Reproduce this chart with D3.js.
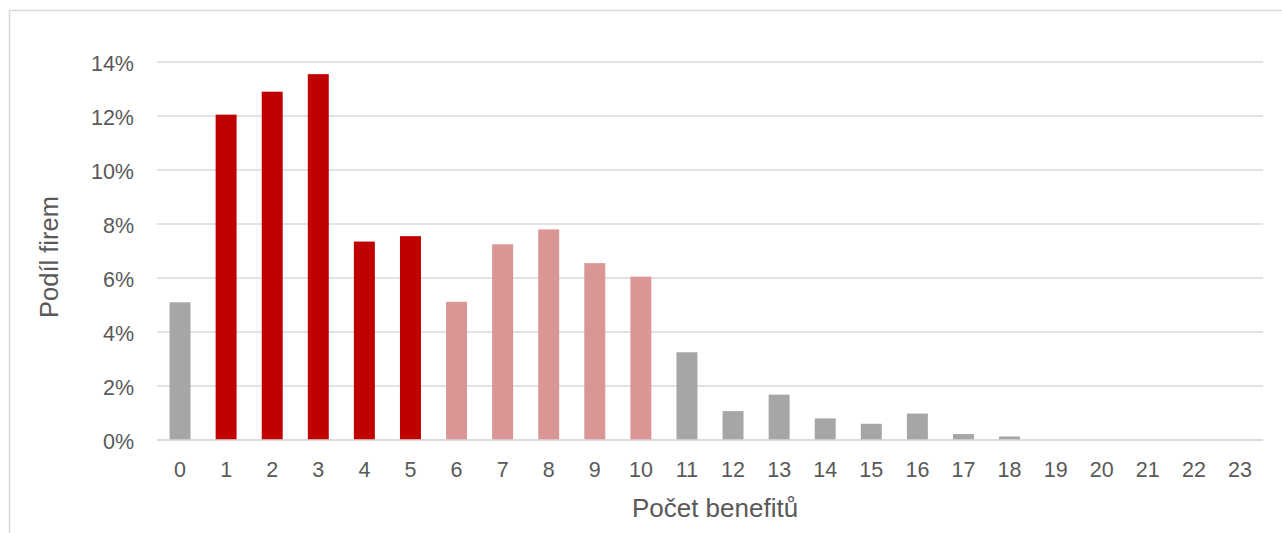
<!DOCTYPE html>
<html>
<head>
<meta charset="utf-8">
<script src="https://cdn.jsdelivr.net/npm/d3@7"></script>
<style>
  html, body { margin: 0; padding: 0; background: #ffffff; }
  svg { display: block; font-family: "Liberation Sans", Arial, sans-serif; }
</style>
</head>
<body>
<svg id="chart" width="1282" height="533"></svg>
<script>
// Share of firms by number of benefits offered
const categories = ["0","1","2","3","4","5","6","7","8","9","10","11","12","13","14","15","16","17","18","19","20","21","22","23"];
const shares = [5.1, 12.05, 12.9, 13.55, 7.35, 7.55, 5.12, 7.25, 7.8, 6.55, 6.05, 3.25, 1.07, 1.68, 0.8, 0.6, 0.98, 0.22, 0.13, 0, 0, 0, 0, 0];
const groups = ["other","core","core","core","core","core","mid","mid","mid","mid","mid","other","other","other","other","other","other","other","other","other","other","other","other","other"];
const yTicks = [0, 2, 4, 6, 8, 10, 12, 14];
const xTitle = "Počet benefitů";
const yTitle = "Podíl firem";

const groupColor = { core: "#C00000", mid: "#D99694", other: "#A6A6A6" };

const svg = d3.select("#chart");
const W = 1282, H = 533;
const plot = { left: 157, right: 1263, top: 62, bottom: 440 };

// outer frame of the chart area (runs off the right and bottom edges)
svg.append("rect")
  .attr("x", 9.5).attr("y", 10.5)
  .attr("width", W + 20).attr("height", H + 20)
  .attr("fill", "none").attr("stroke", "#D9D9D9").attr("stroke-width", 1.5);

const x = d3.scaleBand().domain(categories).range([plot.left, plot.right]).paddingInner(0.545).paddingOuter(0.2725);
const y = d3.scaleLinear().domain([0, 14]).range([plot.bottom, plot.top]);

// horizontal gridlines
svg.append("g")
  .selectAll("line")
  .data(yTicks)
  .join("line")
  .attr("x1", plot.left).attr("x2", plot.right)
  .attr("y1", d => y(d)).attr("y2", d => y(d))
  .attr("stroke", "#D9D9D9").attr("stroke-width", 1.6);

// y axis labels
const yAxis = d3.axisLeft(y).tickValues(yTicks).tickFormat(d => d + "%").tickSize(0).tickPadding(23);
const gy = svg.append("g").attr("transform", `translate(${plot.left},0)`).call(yAxis);
gy.select(".domain").remove();
gy.selectAll("text").attr("fill", "#595959").attr("dy", "0.38em").style("font-size", "21.5px");

// bars
svg.append("g")
  .selectAll("rect")
  .data(categories.map((c, i) => ({ c, v: shares[i], g: groups[i] })))
  .join("rect")
  .attr("x", d => x(d.c))
  .attr("width", x.bandwidth())
  .attr("y", d => y(d.v))
  .attr("height", d => y(0) - y(d.v))
  .attr("fill", d => groupColor[d.g]);

// baseline drawn over bars
svg.append("line")
  .attr("x1", plot.left).attr("x2", plot.right)
  .attr("y1", y(0)).attr("y2", y(0))
  .attr("stroke", "#D9D9D9").attr("stroke-width", 1.6);

// x axis labels
const xAxis = d3.axisBottom(x).tickSize(0);
const gx = svg.append("g").attr("transform", `translate(0,${plot.bottom})`).call(xAxis);
gx.select(".domain").remove();
gx.selectAll("text").attr("fill", "#595959").attr("y", 37).attr("dy", 0).style("font-size", "21.5px");

// axis titles
svg.append("text")
  .attr("x", 715).attr("y", 517)
  .attr("text-anchor", "middle")
  .attr("fill", "#595959").style("font-size", "26px")
  .text(xTitle);

svg.append("text")
  .attr("transform", `translate(58,257) rotate(-90)`)
  .attr("text-anchor", "middle")
  .attr("fill", "#595959").style("font-size", "25.5px")
  .text(yTitle);
</script>
</body>
</html>
